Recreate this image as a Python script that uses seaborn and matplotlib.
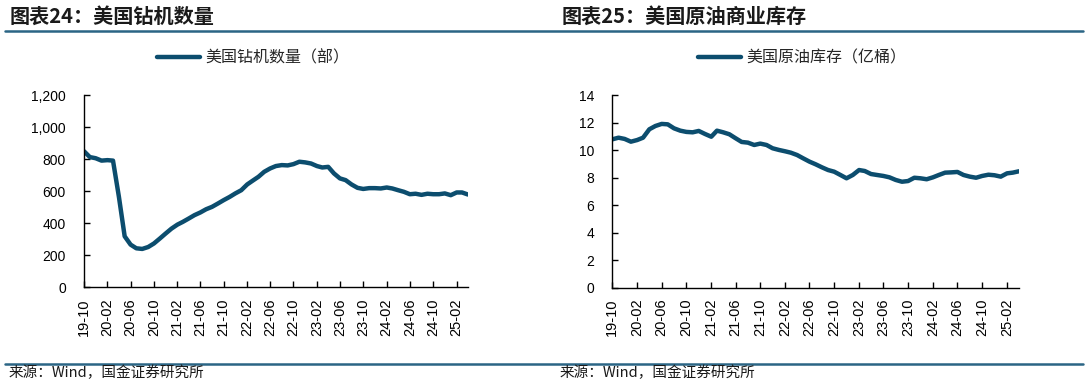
import numpy as np
import pandas as pd
import seaborn as sns
import matplotlib.pyplot as plt
import matplotlib.dates as mdates
from matplotlib.lines import Line2D
from matplotlib.ticker import FuncFormatter, MultipleLocator

# Data (monthly readings, 2019-10 .. 2025-04)
months = pd.date_range('2019-10-01', periods=67, freq='MS')

rig_count = [849, 812, 805, 790, 793, 790, 563, 317, 265, 242, 238, 250,
             272, 303, 334, 365, 390, 407, 428, 449, 466, 486, 501, 522,
             543, 563, 585, 605, 641, 664, 689, 720, 741, 756, 762, 760,
             768, 783, 779, 772, 756, 747, 751, 710, 679, 668, 641, 620,
             613, 618, 618, 616, 622, 616, 605, 595, 580, 583, 576, 583,
             580, 580, 585, 574, 591, 591, 578]

crude_stock = [10.78, 10.90, 10.81, 10.61, 10.73, 10.90, 11.51, 11.75, 11.90, 11.87, 11.58, 11.41,
               11.32, 11.29, 11.39, 11.17, 10.97, 11.41, 11.29, 11.15, 10.86, 10.59, 10.54, 10.37,
               10.47, 10.37, 10.13, 10.01, 9.91, 9.81, 9.64, 9.40, 9.16, 8.97, 8.75, 8.55,
               8.43, 8.19, 7.95, 8.19, 8.55, 8.48, 8.26, 8.19, 8.12, 8.02, 7.83, 7.70,
               7.75, 7.99, 7.95, 7.88, 8.02, 8.19, 8.36, 8.38, 8.41, 8.19, 8.07, 7.99,
               8.12, 8.21, 8.17, 8.07, 8.31, 8.36, 8.46]

titles = ['图表24：美国钻机数量', '图表25：美国原油商业库存']
labels = ['美国钻机数量（部）', '美国原油库存（亿桶）']
source = '来源：Wind，国金证券研究所'

LINE = '#0c4d6e'
RULE = '#2b6585'

sns.set_theme(style='ticks')
plt.rcParams['font.family'] = ['Liberation Sans', 'Noto Sans CJK SC', 'DejaVu Sans']
plt.rcParams['axes.unicode_minus'] = False

fig = plt.figure(figsize=(10.86, 3.85), dpi=100)

ax1 = fig.add_axes([0.0773, 0.2545, 0.3536, 0.4987])
ax2 = fig.add_axes([0.5638, 0.2527, 0.3745, 0.5005])

sns.lineplot(x=months, y=rig_count, ax=ax1, color=LINE, linewidth=3.2, label=labels[0])
sns.lineplot(x=months, y=crude_stock, ax=ax2, color=LINE, linewidth=3.2, label=labels[1])

ax1.set_ylim(0, 1200)
ax1.yaxis.set_major_locator(MultipleLocator(200))
ax1.yaxis.set_major_formatter(FuncFormatter(lambda v, p: '{:,.0f}'.format(v)))
ax2.set_ylim(0, 14)
ax2.yaxis.set_major_locator(MultipleLocator(2))

legend_x = [0.233, 0.7385]
for ax, lx in zip([ax1, ax2], legend_x):
    ax.set_xlim(months[0], months[-1])
    ax.xaxis.set_major_locator(mdates.MonthLocator(bymonth=[2, 6, 10]))
    ax.xaxis.set_major_formatter(mdates.DateFormatter('%y-%m'))
    ax.set_xlabel('')
    ax.set_ylabel('')
    for s in ['top', 'right']:
        ax.spines[s].set_visible(False)
    for s in ['left', 'bottom']:
        ax.spines[s].set_color('black')
        ax.spines[s].set_linewidth(1.0)
    ax.tick_params(axis='y', direction='in', length=4, width=1, pad=13,
                   labelsize=10, colors='black')
    ax.tick_params(axis='x', direction='in', length=4, width=1, pad=8,
                   labelsize=10.5, colors='black', labelrotation=90)
    ax.legend(loc='center', bbox_to_anchor=(lx, 0.849), bbox_transform=fig.transFigure,
              frameon=False, handlelength=2.7, handletextpad=0.3,
              prop={'family': ['Noto Sans CJK SC'], 'size': 11.5})

# titles, rules, source notes
fig.text(0.009, 0.958, titles[0], fontsize=14.5, fontweight='bold', color='#1a1a1a',
         va='center', ha='left', family=['Noto Sans CJK SC'])
fig.text(0.5175, 0.958, titles[1], fontsize=14.5, fontweight='bold', color='#1a1a1a',
         va='center', ha='left', family=['Noto Sans CJK SC'])

fig.add_artist(Line2D([0.005, 0.997], [0.9195, 0.9195], color=RULE, lw=1.8))
fig.add_artist(Line2D([0.005, 0.997], [0.0545, 0.0545], color=RULE, lw=1.8))

fig.text(0.008, 0.031, source, fontsize=10.5, color='#1a1a1a', va='center', ha='left',
         family=['Noto Sans CJK SC'])
fig.text(0.515, 0.031, source, fontsize=10.5, color='#1a1a1a', va='center', ha='left',
         family=['Noto Sans CJK SC'])

fig.savefig('out.png', dpi=100)
